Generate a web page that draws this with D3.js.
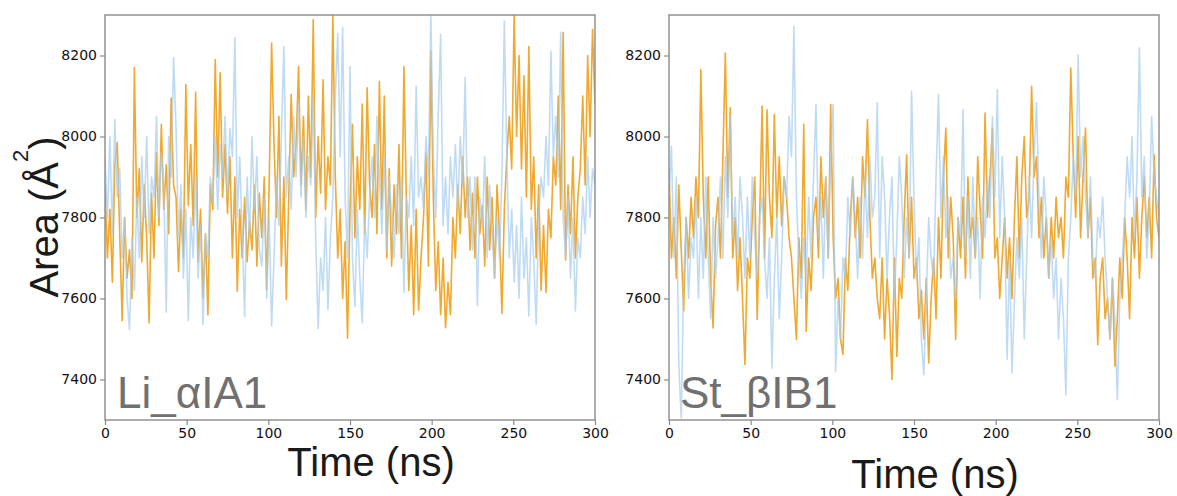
<!DOCTYPE html>
<html>
<head>
<meta charset="utf-8">
<script src="https://cdn.jsdelivr.net/npm/d3@7"></script>
<style>
  body { margin: 0; background: #fff; }
</style>
</head>
<body>
<div id="chart"></div>
<script>
// time axis: one sample every 1.5 ns, 0..300
const times = d3.range(0, 300.001, 1.5);

const xTicks = [0, 50, 100, 150, 200, 250, 300];
const yTicks = [7400, 7600, 7800, 8000, 8200];
const panelLabels = ["Li_\u03b1IA1", "St_\u03b2IB1"];

// Li_αIA1 - orange run
const liOrange = [
  7880,7700,7820,7640,7930,7985,7760,7545,7800,7650,
  7720,7600,8170,7800,7920,7690,7880,7750,7540,7860,
  7700,7960,7780,8030,7820,7930,7760,8095,7880,7850,
  7667,7820,7700,8128,7830,7980,7780,8110,7690,7820,
  7600,7760,7560,7880,7820,8190,7900,8157,7850,7980,
  7810,7950,7700,7900,7618,7820,7700,7850,7690,7790,
  7720,7880,7680,7860,7750,7900,7622,7880,8231,7980,
  7800,8050,7680,7900,7597,7850,8104,7900,7980,8173,
  7880,8050,7820,8100,7900,8289,7800,8000,7860,8140,
  7820,7950,7880,8300,7900,7700,7820,7600,7740,7502,
  7820,8030,7750,7950,7820,8080,7760,8120,7880,7800,
  7980,7760,8136,7820,8100,7700,7920,7680,7880,7760,
  7980,7700,8173,7850,7620,7780,7560,7820,7571,7700,
  7800,7960,7680,8211,7850,7620,7740,7560,7700,7528,
  7640,7560,7800,7700,7880,7760,7950,7800,7900,7720,
  7860,7700,7900,7760,7830,7680,7900,7720,7850,7650,
  7880,7760,7563,7820,7950,8050,7920,8300,8000,8200,
  7920,8150,7850,8222,7820,7950,7700,7880,7620,7780,
  7615,7820,7750,7950,7880,8100,7820,8257,7695,7880,
  7760,7950,7700,7850,7920,8100,7880,8200,8000,8264,
  8080
];

// Li_αIA1 - blue run
const liBlue = [
  7950,7800,8000,7760,8042,7850,7920,7700,7800,7600,
  7523,7750,7620,7850,7700,7950,7800,8000,7760,7900,
  7850,8050,7800,7960,7870,7566,8000,7900,8195,8020,
  7750,7880,7650,7820,7545,7800,7700,7900,7650,7780,
  7536,7760,7700,7900,7840,8000,7820,7980,7900,8050,
  7850,8020,7950,8244,7800,7950,7760,7555,7900,7750,
  8000,7820,7950,7720,7680,7850,7600,7800,7532,7700,
  7900,7780,8000,8223,7850,7950,7820,8050,7900,8080,
  7850,8000,7800,7950,7880,8100,7750,7526,7700,7620,
  7800,7573,7750,7850,8100,8254,7950,8270,7850,7700,
  8173,7700,7580,7820,7650,7540,7800,7700,7850,7950,
  7800,8050,7900,7760,7950,7720,7900,7800,7700,7880,
  7760,7900,7615,7850,7800,7950,7780,8124,7850,7900,
  7820,8000,7900,8300,7950,7800,8050,8252,7780,7900,
  7760,7950,7850,7980,7820,8000,7880,8146,7800,7900,
  7720,7900,7582,7850,7780,7950,7700,7880,7760,7650,
  7800,7700,7900,8285,7950,7700,7820,7640,7780,7600,
  7850,7650,7750,7557,7800,7700,7536,7800,7900,7850,
  8000,7880,8211,7950,8050,7900,8257,7800,7700,7850,
  7650,7800,7569,7750,7700,7850,7760,7950,7800,7920,
  7880
];

// St_βIB1 - orange run
const stOrange = [
  7920,7700,7800,7650,7880,7720,7569,7800,7700,7850,
  7750,7900,7800,8165,7850,7700,7900,7650,7527,7780,
  7850,7700,7950,8206,7850,8071,7700,7800,7620,7750,
  7600,7437,7700,7650,7800,7900,7548,7800,8075,7700,
  8066,7850,7750,8054,7800,7950,7780,7900,7850,7750,
  7700,7600,7499,7750,7650,8030,7519,7700,7620,7800,
  7850,7700,7950,7800,7900,7700,8079,7750,7600,7650,
  7500,7462,7700,7620,7800,7900,7750,7850,7700,7950,
  7850,8042,7800,7650,7700,7600,7550,7700,7500,7650,
  7560,7400,7700,7457,7650,7600,7800,7955,7700,7850,
  7650,7700,7550,7620,7500,7650,7441,7600,7700,7550,
  7800,7650,7900,8021,7700,7850,7750,7499,7800,7700,
  7850,7650,7900,7750,7800,7700,7950,7820,7700,8058,
  7800,7900,8021,7700,7750,7600,7700,7800,7650,7750,
  7600,7800,7950,7700,7900,8000,7800,7850,8124,7900,
  7950,7750,7850,7700,7800,7650,7800,7700,7850,7750,
  7800,7700,7900,7850,8169,7950,7800,8000,7750,7900,
  8021,7750,7850,7650,7700,7486,7650,7700,7550,7600,
  7500,7650,7433,7550,7700,7600,7800,7700,7550,7800,
  7700,7850,7650,7800,7900,7750,7850,7700,7955,7800,
  7750
];

// St_βIB1 - blue run
const stBlue = [
  7850,7976,7700,7900,7437,7305,7650,7800,7600,7750,
  7700,7850,7600,7800,7650,7900,7700,7550,7800,7650,
  7750,7900,7700,7950,7800,8050,7750,7850,7700,7900,
  7800,7650,7850,7700,7900,7750,7650,7800,7850,7700,
  7600,7750,7428,7650,7800,7550,7700,7900,7850,8050,
  7950,8272,7850,7700,7600,7750,7650,7850,7700,7900,
  8079,7750,7850,7650,7900,7700,7950,8079,7420,7600,
  7500,7700,7650,7850,7750,7900,7800,7650,7850,7700,
  7900,7750,7950,7800,7850,8083,7700,7950,7850,7650,
  7800,7900,7600,7750,7950,7850,7650,7800,7700,8112,
  7850,7650,7750,7500,7412,7600,7800,7700,7650,7900,
  8104,7800,7950,7750,7850,7650,7700,7600,7800,7750,
  8066,7700,7850,7650,7900,7700,7800,7600,7850,7750,
  7900,7800,8050,7850,8116,7750,7950,7800,7450,7700,
  7416,7600,7750,7650,7800,7500,7700,7900,7750,7950,
  8083,7850,7700,7900,7800,7650,7750,7600,7700,7500,
  7650,7550,7362,7700,7800,7950,7850,8202,7900,8000,
  7850,7750,7900,7700,7650,7800,7750,7850,7700,7600,
  7500,7650,7550,7350,7600,7700,7800,7950,7850,8000,
  7750,7900,8219,7850,7950,7700,7800,8050,7900,7850,
  7800
];

const width = 1177, height = 496;
const plotTop = 15, plotBottom = 420, plotWidth = 490;
const orange = "#f0a82e", blue = "#a6cdee";
const spineColor = "#8a8a8a";

const panels = [
  {left: 105, label: panelLabels[0], orange: liOrange, blue: liBlue, labelX: 117, xlabelY: 476},
  {left: 669, label: panelLabels[1], orange: stOrange, blue: stBlue, labelX: 680, xlabelY: 488}
];

const svg = d3.select("#chart")
  .append("svg")
  .attr("width", width)
  .attr("height", height)
  .style("font-family", "'DejaVu Sans', sans-serif");

svg.append("rect").attr("width", width).attr("height", height).attr("fill", "#fff");

const y = d3.scaleLinear().domain([7300, 8300]).range([plotBottom, plotTop]);

panels.forEach((p, i) => {
  const x = d3.scaleLinear().domain([0, 300]).range([p.left, p.left + plotWidth]);

  svg.append("clipPath").attr("id", "clip" + i)
    .append("rect")
    .attr("x", p.left).attr("y", plotTop)
    .attr("width", plotWidth).attr("height", plotBottom - plotTop);

  const line = d3.line()
    .x((d, j) => x(times[j]))
    .y(d => y(d));

  const g = svg.append("g").attr("clip-path", `url(#clip${i})`);

  // orange first, translucent blue over it
  g.append("path")
    .datum(p.orange)
    .attr("fill", "none")
    .attr("stroke", orange)
    .attr("stroke-width", 1.6)
    .attr("stroke-linejoin", "round")
    .attr("d", line);

  g.append("path")
    .datum(p.blue)
    .attr("fill", "none")
    .attr("stroke", blue)
    .attr("stroke-opacity", 0.72)
    .attr("stroke-width", 1.6)
    .attr("stroke-linejoin", "round")
    .attr("d", line);

  // panel name
  svg.append("text")
    .attr("x", p.labelX)
    .attr("y", 408)
    .style("font-family", "'Liberation Sans', Arial, sans-serif")
    .style("font-size", "44px")
    .attr("fill", "#707070")
    .text(p.label);

  // axes
  const xAxis = svg.append("g")
    .attr("transform", `translate(0,${plotBottom})`)
    .call(d3.axisBottom(x).tickValues(xTicks).tickSize(5).tickPadding(3).tickFormat(d3.format("d")));
  const yAxis = svg.append("g")
    .attr("transform", `translate(${p.left},0)`)
    .call(d3.axisLeft(y).tickValues(yTicks).tickSize(5).tickPadding(3).tickFormat(d3.format("d")));

  [xAxis, yAxis].forEach(a => {
    a.select(".domain").remove();
    a.selectAll(".tick line").attr("stroke", spineColor).attr("stroke-width", 1.2);
    a.selectAll(".tick text")
      .style("font-family", "'DejaVu Sans', sans-serif")
      .style("font-size", "14px")
      .attr("fill", "#111");
  });

  // spines
  svg.append("rect")
    .attr("x", p.left).attr("y", plotTop)
    .attr("width", plotWidth).attr("height", plotBottom - plotTop)
    .attr("fill", "none")
    .attr("stroke", spineColor)
    .attr("stroke-width", 1.4);

  // x label
  svg.append("text")
    .attr("x", p.left + plotWidth / 2 + 21)
    .attr("y", p.xlabelY)
    .attr("text-anchor", "middle")
    .style("font-family", "'Liberation Sans', Arial, sans-serif")
    .style("font-size", "40px")
    .attr("fill", "#1a1a1a")
    .text("Time (ns)");
});

// y label, left panel only
const yLabel = svg.append("text")
  .attr("transform", "translate(58,217) rotate(-90)")
  .attr("text-anchor", "middle")
  .style("font-family", "'Liberation Sans', Arial, sans-serif")
  .style("font-size", "40px")
  .attr("fill", "#1a1a1a");
yLabel.append("tspan").text("Area (\u00c5");
yLabel.append("tspan").attr("dy", -30).style("font-size", "22px").text("2");
yLabel.append("tspan").attr("dy", 30).text(")");
</script>
</body>
</html>
